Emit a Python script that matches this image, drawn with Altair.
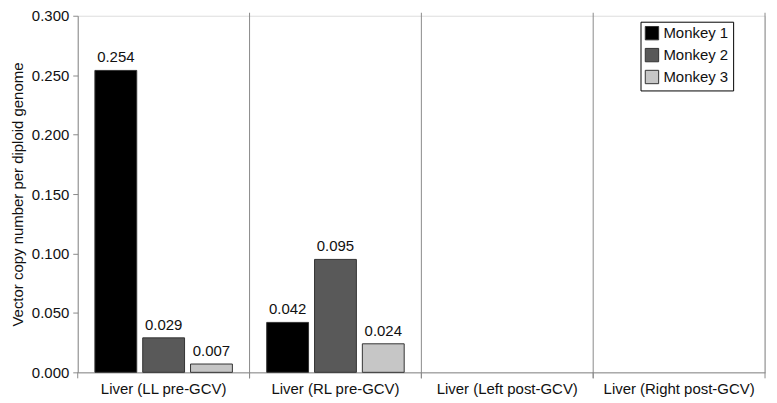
import altair as alt
import pandas as pd

categories = ["Liver (LL pre-GCV)", "Liver (RL pre-GCV)", "Liver (Left post-GCV)", "Liver (Right post-GCV)"]
monkeys = ["Monkey 1", "Monkey 2", "Monkey 3"]
monkey1 = [0.254, 0.042, None, None]
monkey2 = [0.029, 0.095, None, None]
monkey3 = [0.007, 0.024, None, None]
colors = ["#000000", "#595959", "#c6c6c6"]
y_ticks = [0.0, 0.05, 0.10, 0.15, 0.20, 0.25, 0.30]

rows = []
for m, series in zip(monkeys, [monkey1, monkey2, monkey3]):
    for c, v in zip(categories, series):
        if v is not None:
            rows.append({"category": c, "monkey": m, "value": v})
df = pd.DataFrame(rows)
cat_df = pd.DataFrame({"category": categories})

FONT = "Liberation Sans"
W, H = 690, 358
AX = "#8a8a8a"

x_enc = alt.X(
    "category:N",
    scale=alt.Scale(domain=categories, paddingInner=0, paddingOuter=0),
    sort=categories,
    axis=alt.Axis(title=None, labels=False, ticks=False, domainColor=AX),
)
xoff = alt.XOffset("monkey:N", scale=alt.Scale(domain=monkeys, paddingInner=0.125, paddingOuter=0.359))
y_enc = alt.Y(
    "value:Q",
    scale=alt.Scale(domain=[0, 0.3], nice=False),
    axis=alt.Axis(title="Vector copy number per diploid genome", values=y_ticks, format=".3f",
                  grid=False, tickSize=5, labelPadding=4, labelFontSize=15, titleFontSize=15,
                  titleFontWeight="normal", labelColor="#111", titleColor="#111",
                  domainColor=AX, tickColor=AX, titlePadding=6,
                  labelFont=FONT, titleFont=FONT),
)

bars = alt.Chart(df).mark_bar(stroke="#333333", strokeWidth=1).encode(
    x=x_enc,
    xOffset=xoff,
    y=y_enc,
    color=alt.Color("monkey:N", scale=alt.Scale(domain=monkeys, range=colors),
                    legend=alt.Legend(title=None, orient="none", legendX=565, legendY=6,
                                      symbolType="square", symbolSize=180,
                                      symbolStrokeColor="#333333", symbolStrokeWidth=1,
                                      labelFontSize=15, labelFont=FONT, labelColor="#111",
                                      strokeColor="#000000", padding=4, rowPadding=3,
                                      labelOffset=4)),
)

labels = alt.Chart(df).mark_text(dy=-13, fontSize=15, font=FONT, color="#111").encode(
    x=alt.X("category:N", sort=categories),
    xOffset=xoff,
    y=alt.Y("value:Q"),
    text=alt.Text("value:Q", format=".3f"),
)

cat_labels = alt.Chart(cat_df).mark_text(fontSize=15, font=FONT, color="#111", baseline="middle").encode(
    x=alt.X("category:N", sort=categories, bandPosition=0.5),
    y=alt.value(H + 17),
    text="category:N",
)

seps_end = alt.Chart(cat_df).mark_rule(color=AX, strokeWidth=1).encode(
    x=alt.X("category:N", sort=categories, bandPosition=1),
    y=alt.value(-3),
    y2=alt.value(H + 6),
)
seps_start = alt.Chart(cat_df).mark_rule(color=AX, strokeWidth=1).encode(
    x=alt.X("category:N", sort=categories, bandPosition=0),
    y=alt.value(H),
    y2=alt.value(H + 6),
)

chart = alt.layer(seps_end, seps_start, bars, labels, cat_labels).properties(
    width=W, height=H,
    autosize=alt.AutoSizeParams(type="none"),
    padding={"left": 70, "top": 7, "right": 4, "bottom": 28},
).configure_view(stroke=None).configure(font=FONT)

chart.save("out.html", embed_options={"renderer": "svg", "actions": False})
